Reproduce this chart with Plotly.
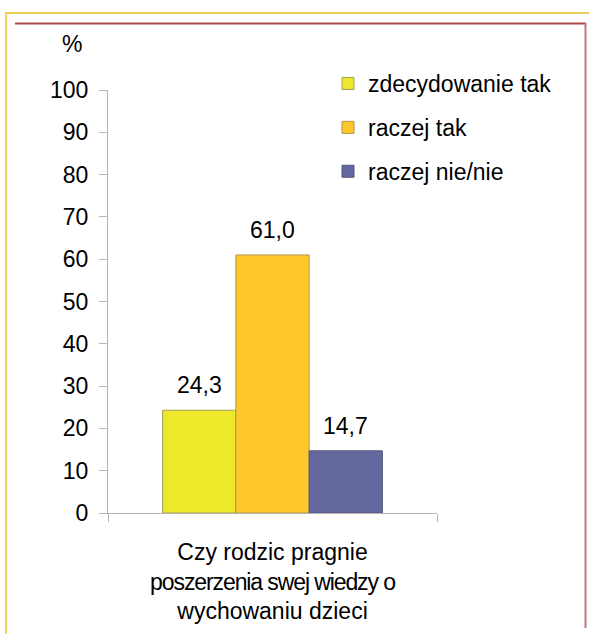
import plotly.graph_objects as go

# Survey answers: does the parent want to broaden their knowledge of child-rearing?
category = ["Czy rodzic pragnie<br><span style='letter-spacing:-1.1px'>poszerzenia swej wiedzy o</span><br>wychowaniu dzieci"]
series_names = ["zdecydowanie tak", "raczej tak", "raczej nie/nie"]
series_values = [24.3, 61.0, 14.7]
series_colors = ["#ede82a", "#fec82c", "#65689f"]
outline_colors = ["#a39f5a", "#b3944a", "#55577a"]
y_ticks = [0, 10, 20, 30, 40, 50, 60, 70, 80, 90, 100]

W, H = 589, 634
ML, MR, MT, MB = 108, 152, 90, 121
PW, PH = W - ML - MR, H - MT - MB
BARGAP = 0.332
FONT = "Liberation Sans, Arial, sans-serif"
FS = 23


def px(x):
    return (x - ML) / PW


def py(y):
    return (H - MB - y) / PH


fig = go.Figure()
for i, (name, val, col, oc) in enumerate(zip(series_names, series_values, series_colors, outline_colors)):
    fig.add_trace(go.Bar(
        x=category, y=[val], name=name, legendgroup=name,
        marker=dict(color=col, line=dict(color=oc, width=1)),
        hoverinfo="name+y",
    ))

# value labels above each bar
bar_w = (1 - BARGAP) / len(series_values)
annotations = []
for i, val in enumerate(series_values):
    annotations.append(dict(
        x=(i - (len(series_values) - 1) / 2) * bar_w, y=val, xref="x", yref="y",
        text=f"{val:.1f}".replace(".", ","), showarrow=False,
        xanchor="center", yanchor="middle",
        yshift=25, font=dict(size=FS, color="#000", family=FONT),
    ))
annotations.append(dict(
    x=px(72), y=py(44), xref="paper", yref="paper", text="%", showarrow=False,
    xanchor="center", yanchor="middle",
    font=dict(size=FS, color="#000", family=FONT),
))

# decorative double frame
shapes = [
    dict(type="line", xref="paper", yref="paper", x0=px(6), x1=px(6), y0=py(13), y1=py(640),
         line=dict(color="#f5d35a", width=2)),
    dict(type="line", xref="paper", yref="paper", x0=px(5), x1=px(595), y0=py(13), y1=py(13),
         line=dict(color="#edcf55", width=2)),
    dict(type="line", xref="paper", yref="paper", x0=px(15), x1=px(586), y0=py(23.5), y1=py(23.5),
         line=dict(color="#a84848", width=2)),
    dict(type="line", xref="paper", yref="paper", x0=px(585.5), x1=px(585.5), y0=py(23), y1=py(628),
         line=dict(color="#c07a7a", width=2)),
]

fig.update_layout(
    width=W, height=H,
    margin=dict(l=ML, r=MR, t=MT, b=MB, autoexpand=False),
    paper_bgcolor="white", plot_bgcolor="white",
    barmode="group", bargap=BARGAP, bargroupgap=0,
    separators=", ",
    font=dict(family=FONT, size=FS, color="#000"),
    showlegend=True,
    legend=dict(
        x=px(328), y=py(62), xanchor="left", yanchor="top",
        font=dict(size=FS, family=FONT, color="#000"),
        tracegroupgap=11, traceorder="grouped",
        bgcolor="rgba(0,0,0,0)",
    ),
    xaxis=dict(
        showline=True, linecolor="#b4b4b4", linewidth=1,
        ticks="outside", tickson="boundaries", ticklen=8, tickcolor="#b4b4b4",
        ticklabelstandoff=18,
        tickfont=dict(size=FS, family=FONT, color="#000"),
        showgrid=False, zeroline=False, fixedrange=True,
    ),
    yaxis=dict(
        range=[0, 100], tickvals=y_ticks, showline=True, linecolor="#b4b4b4", linewidth=1,
        ticks="outside", ticklen=8, tickcolor="#b4b4b4",
        ticklabelstandoff=6,
        tickfont=dict(size=FS, family=FONT, color="#000"),
        showgrid=False, zeroline=False, fixedrange=True,
    ),
    annotations=annotations,
    shapes=shapes,
)

fig.write_html("out.html")
